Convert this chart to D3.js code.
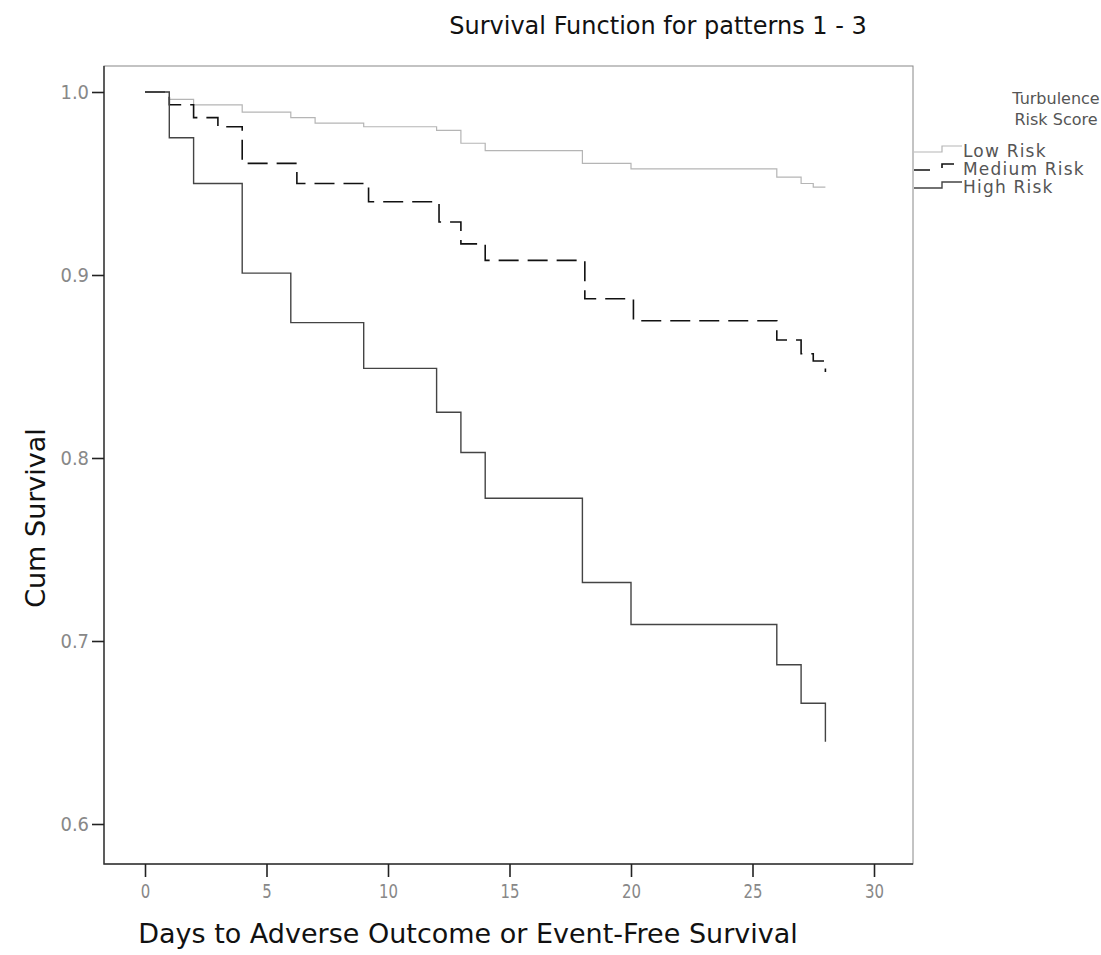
<!DOCTYPE html>
<html>
<head>
<meta charset="utf-8">
<script src="https://cdn.jsdelivr.net/npm/d3@7"></script>
<style>
  body { margin: 0; background: #fff; }
  svg { display: block; }
</style>
</head>
<body>
<svg id="chart"></svg>
<script>
// survival step data, [day, cum survival]
const lowRisk = [
  [0, 1.0], [1, 0.996], [2, 0.993], [4, 0.989], [6, 0.986], [7, 0.983],
  [9, 0.981], [12, 0.979], [13, 0.972], [14, 0.968], [18, 0.961],
  [20, 0.958], [26, 0.9535], [27, 0.950], [27.5, 0.948], [28, 0.948]
];
const mediumRisk = [
  [0, 1.0], [1, 0.993], [2, 0.986], [3, 0.981], [4, 0.961], [6.25, 0.950],
  [9.2, 0.940], [12.1, 0.929], [13, 0.917], [14, 0.908], [18.1, 0.887],
  [20.1, 0.875], [26, 0.8645], [27, 0.857], [27.5, 0.853], [28, 0.847]
];
const highRisk = [
  [0, 1.0], [1, 0.975], [2, 0.950], [4, 0.901], [6, 0.874], [9, 0.849],
  [12, 0.825], [13, 0.803], [14, 0.778], [18, 0.732], [20, 0.709],
  [26, 0.687], [27, 0.666], [28, 0.645]
];
const xTicks = [0, 5, 10, 15, 20, 25, 30];
const yTicks = [0.6, 0.7, 0.8, 0.9, 1.0];
const legendLabels = ['Low Risk', 'Medium Risk', 'High Risk'];

const W = 1101, H = 955;
const box = { left: 104, right: 913, top: 66, bottom: 864 };

const svg = d3.select('#chart').attr('width', W).attr('height', H);
svg.append('rect').attr('width', W).attr('height', H).attr('fill', '#fff');

const x = d3.scaleLinear().domain([0, 30]).range([145, 874]);
const y = d3.scaleLinear().domain([0.6, 1.0]).range([824, 92]);

// frame: dark left/bottom, lighter top/right like the scan
svg.append('rect')
  .attr('x', box.left).attr('y', box.top)
  .attr('width', box.right - box.left).attr('height', box.bottom - box.top)
  .attr('fill', 'none').attr('stroke', '#888').attr('stroke-width', 1);
svg.append('path')
  .attr('d', d3.line()([[box.left, box.top], [box.left, box.bottom], [box.right, box.bottom]]))
  .attr('fill', 'none').attr('stroke', '#333').attr('stroke-width', 1.4);

// axes (narrow, tall digits as in the scan)
const xAxis = svg.append('g').attr('transform', `translate(0,${box.bottom})`)
  .call(d3.axisBottom(x).tickValues(xTicks).tickSize(13).tickPadding(8).tickFormat(d3.format('d')));
const yAxis = svg.append('g').attr('transform', `translate(${box.left},0)`)
  .call(d3.axisLeft(y).tickValues(yTicks).tickSize(12).tickPadding(3).tickFormat(d3.format('.1f')));
[xAxis, yAxis].forEach(a => {
  a.select('.domain').remove();
  a.selectAll('.tick line').attr('stroke', '#222').attr('stroke-width', 1.6);
  a.selectAll('text').style('fill', '#888').style('font-family', 'DejaVu Sans')
    .style('font-size', '19px')
    .attr('lengthAdjust', 'spacingAndGlyphs')
    .attr('textLength', function () { return this.textContent.length * 9.5; });
});

// curves
const line = d3.line().x(d => x(d[0])).y(d => y(d[1])).curve(d3.curveStepAfter);
const series = [
  { data: lowRisk, color: '#b5b5b5', width: 1.2, dash: null },
  { data: mediumRisk, color: '#111', width: 1.6, dash: '20,9' },
  { data: highRisk, color: '#444', width: 1.4, dash: null }
];
series.forEach(s => {
  svg.append('path').datum(s.data)
    .attr('fill', 'none').attr('stroke', s.color).attr('stroke-width', s.width)
    .attr('stroke-dasharray', s.dash).attr('d', line);
});

// titles
svg.append('text').attr('x', 658).attr('y', 34).attr('text-anchor', 'middle')
  .style('font-family', 'DejaVu Sans').style('font-size', '24px').style('fill', '#111')
  .text('Survival Function for patterns 1 - 3');
svg.append('text').attr('x', 468).attr('y', 943).attr('text-anchor', 'middle')
  .style('font-family', 'DejaVu Sans').style('font-size', '27px').style('fill', '#111')
  .text('Days to Adverse Outcome or Event-Free Survival');
svg.append('text').attr('transform', 'translate(45,518) rotate(-90)').attr('text-anchor', 'middle')
  .style('font-family', 'DejaVu Sans').style('font-size', '27px').style('fill', '#111')
  .text('Cum Survival');

// legend
const lg = svg.append('g').attr('transform', 'translate(912,0)');
lg.append('text').attr('x', 144).attr('y', 104).attr('text-anchor', 'middle')
  .style('font-family', 'DejaVu Sans').style('font-size', '16px').style('fill', '#555')
  .text('Turbulence');
lg.append('text').attr('x', 144).attr('y', 125).attr('text-anchor', 'middle')
  .style('font-family', 'DejaVu Sans').style('font-size', '16px').style('fill', '#555')
  .text('Risk Score');
legendLabels.forEach((lab, i) => {
  const yy = 151 + i * 18;
  const s = series[i];
  lg.append('path')
    .attr('d', d3.line()([[2, yy + 1], [30, yy + 1], [30, yy - 5], [50, yy - 5]]))
    .attr('fill', 'none').attr('stroke', s.color).attr('stroke-width', s.width)
    .attr('stroke-dasharray', s.dash ? '16,14' : null);
  lg.append('text').attr('x', 51).attr('y', yy + 6)
    .style('font-family', 'DejaVu Sans').style('font-size', '17px').style('fill', '#555')
    .style('letter-spacing', '1.2px')
    .text(lab);
});
</script>
</body>
</html>
